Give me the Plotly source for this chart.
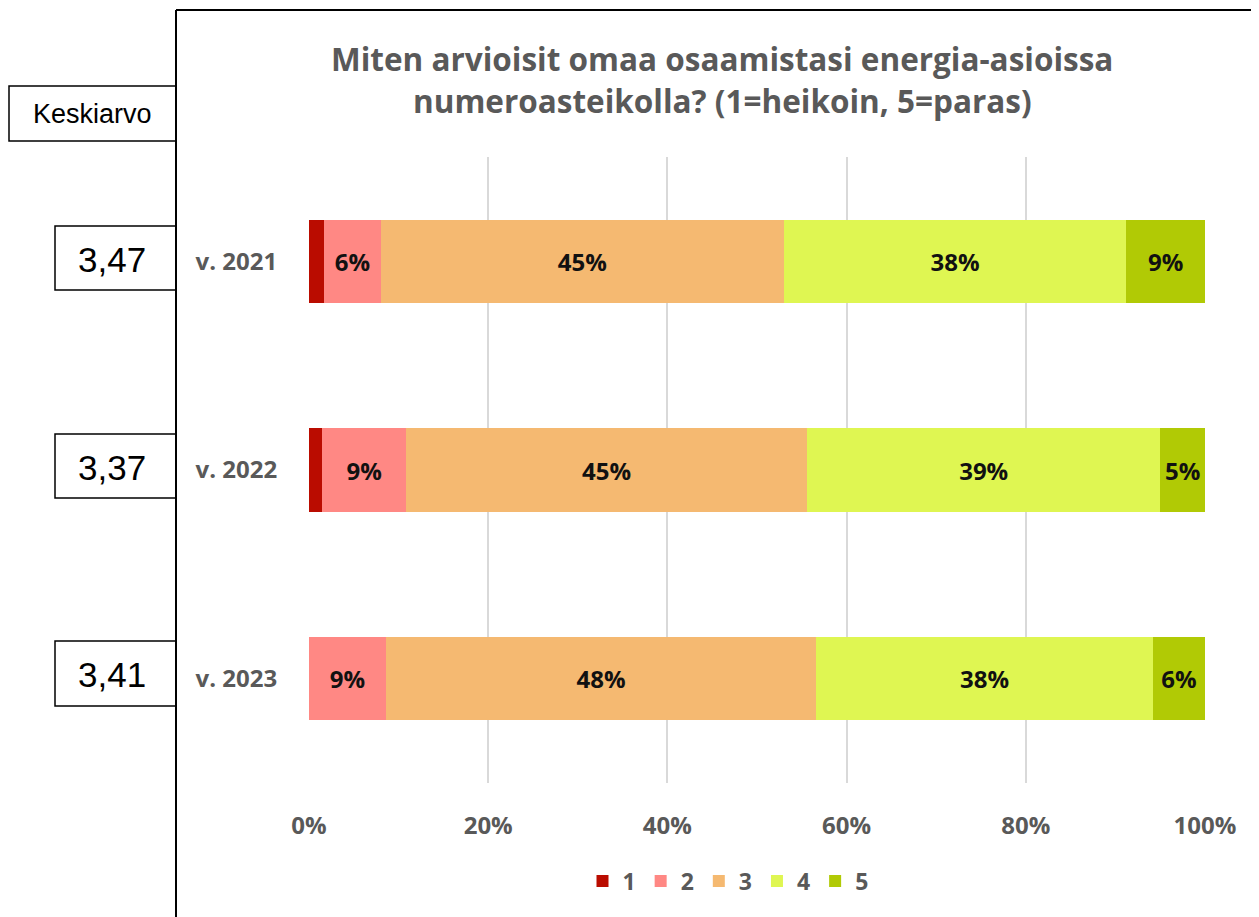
import plotly.graph_objects as go

years = ["v. 2021", "v. 2022", "v. 2023"]
averages = ["3,47", "3,37", "3,41"]
series_names = ["1", "2", "3", "4", "5"]
s1 = [1.7, 1.5, 0.0]
s2 = [6.3, 9.3, 8.6]
s3 = [45.0, 44.8, 48.0]
s4 = [38.2, 39.4, 37.6]
s5 = [8.8, 5.0, 5.8]
colors = ["#BA0C00", "#FF8884", "#F5B971", "#DFF652", "#B1CA05"]
tick_vals = [0, 20, 40, 60, 80, 100]
tick_text = ["0%", "20%", "40%", "60%", "80%", "100%"]
title_lines = ["Miten arvioisit omaa osaamistasi energia-asioissa", "numeroasteikolla? (1=heikoin, 5=paras)"]

OFF = 8  # default page body margin
W, H = 1259 - OFF, 917 - OFF
L, R, T, B = 309, 1205, 157, 783  # page pixel coordinates of plot area

def px(x):
    return (x - L) / (R - L)

def py(y):
    return (B - y) / (B - T)

FONT = "Open Sans"
fig = go.Figure()
for i, (name, vals) in enumerate(zip(series_names, [s1, s2, s3, s4, s5])):
    fig.add_trace(go.Bar(
        y=years, x=vals, name=name, orientation="h",
        marker=dict(color=colors[i], line=dict(width=0)),
        texttemplate="" if i == 0 else "%{x:.0f}%",
        textposition="inside", insidetextanchor="middle", textangle=0,
        textfont=dict(family=FONT, size=24, color="#111111", weight="bold"),
        constraintext="none", hoverinfo="skip",
    ))

shapes = []
shapes.append(dict(type="line", xref="paper", yref="paper", x0=px(176), x1=px(176), y0=py(10), y1=py(930),
                   line=dict(color="black", width=2)))
shapes.append(dict(type="line", xref="paper", yref="paper", x0=px(176), x1=px(1270), y0=py(10), y1=py(10),
                   line=dict(color="black", width=2)))
shapes.append(dict(type="rect", xref="paper", yref="paper", x0=px(9), x1=px(176), y0=py(141), y1=py(86),
                   line=dict(color="black", width=1.5), fillcolor="white", layer="below"))
annotations = [dict(text="Keskiarvo", xref="paper", yref="paper", x=px(92), y=py(114), showarrow=False,
                    xanchor="center", yanchor="middle",
                    font=dict(family="Liberation Sans, Arial", size=27, color="black"))]
box_y = [(226, 290), (434, 498), (641, 706)]
for (y0, y1), val in zip(box_y, averages):
    shapes.append(dict(type="rect", xref="paper", yref="paper", x0=px(55), x1=px(176), y0=py(y1), y1=py(y0),
                       line=dict(color="black", width=1.5), fillcolor="white", layer="below"))
    annotations.append(dict(text=val, xref="paper", yref="paper", x=px(112), y=py((y0 + y1) / 2 + 1),
                            showarrow=False, xanchor="center", yanchor="middle",
                            font=dict(family="Liberation Sans, Arial", size=35, color="black")))
for line_text, yc in zip(title_lines, [58, 101]):
    annotations.append(dict(text="<b>" + line_text + "</b>", xref="paper", yref="paper", x=px(722), y=py(yc),
                            showarrow=False, xanchor="center", yanchor="middle",
                            font=dict(family=FONT, size=31.5, color="#595959")))

fig.update_layout(
    width=W, height=H,
    margin=dict(l=L - OFF, r=W - (R - OFF), t=T - OFF, b=H - (B - OFF), autoexpand=False),
    paper_bgcolor="white", plot_bgcolor="white",
    barmode="stack", bargap=0.6,
    xaxis=dict(range=[0, 100], tickvals=tick_vals, ticktext=tick_text, showgrid=True, gridcolor="#D9D9D9",
               gridwidth=1.5, zeroline=False, showline=False, ticks="outside", ticklen=21,
               tickcolor="rgba(0,0,0,0)", tickfont=dict(family=FONT, size=24, color="#595959", weight="bold")),
    yaxis=dict(categoryorder="array", categoryarray=years, autorange="reversed", showgrid=False,
               ticks="outside", ticklen=26, tickcolor="rgba(0,0,0,0)", showline=False,
               tickfont=dict(family=FONT, size=24, color="#595959", weight="bold")),
    legend=dict(orientation="h", x=px(728), xanchor="center", y=py(881), yanchor="middle",
                font=dict(family=FONT, size=23, color="#595959", weight="bold"), traceorder="normal",
                itemwidth=30, bgcolor="rgba(0,0,0,0)"),
    shapes=shapes, annotations=annotations,
    showlegend=True,
)
fig.write_html("out.html")
